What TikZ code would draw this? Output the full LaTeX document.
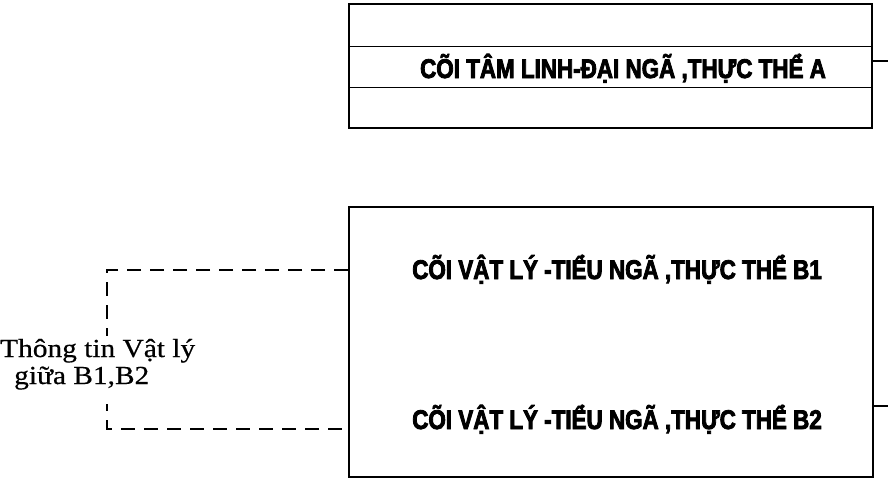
\documentclass[tikz,border=0pt]{standalone}
\usepackage{fontspec}
\setmainfont{Liberation Serif}
\newfontfamily\headfont[FakeStretch=0.83,FakeBold=3]{Liberation Sans Bold}
\newfontfamily\sidefont[FakeStretch=1.13,FakeBold=0.5]{Liberation Serif}
\tikzset{
  frame/.style={draw, line width=2pt, rectangle, inner sep=0pt},
  band/.style={draw, line width=1.8pt, rectangle, inner sep=0pt},
  headtxt/.style={font=\headfont\fontsize{27}{29}\selectfont, inner sep=0pt, anchor=base},
  sidetxt/.style={font=\sidefont\fontsize{26}{28}\selectfont, inner sep=0pt, anchor=base west},
  dashlink/.style={line width=1.6pt, dash pattern=on 14pt off 9pt},
  tick/.style={line width=1.6pt}
}
\begin{document}
\begin{tikzpicture}[x=1pt,y=-1pt]
\useasboundingbox (0,0) rectangle (888,480);
% top box
\node[frame, minimum width=523pt, minimum height=124pt] (A) at (610.5,66) {};
\node[band, minimum width=523pt, minimum height=41pt] (Aband) at (610.5,67) {};
\node[headtxt] (Atxt) at (623,78) {CÕI TÂM LINH-ĐẠI NGÃ ,THỰC THỂ A};
% lower box
\node[frame, minimum width=524pt, minimum height=270pt] (B) at (611,342) {};
\node[headtxt] (B1) at (617,279) {CÕI VẬT LÝ -TIỂU NGÃ ,THỰC THỂ B1};
\node[headtxt] (B2) at (617,429) {CÕI VẬT LÝ -TIỂU NGÃ ,THỰC THỂ B2};
% side ticks
\coordinate (tA) at (888,61);
\coordinate (tB) at (888,406);
\draw[tick] (A.east |- tA) -- (tA);
\draw[tick] (B.east |- tB) -- (tB);
% dashed link between B1 and B2
\coordinate (l1) at (107,270);
\coordinate (l2) at (107,429);
\draw[dashlink] (B.west |- l1) -- (l1) -- (l2) -- (B.west |- l2);
% side label
\node[sidetxt, fill=white, inner ysep=14pt] (lbl2) at (14,384) {giữa B1,B2};
\node[sidetxt, fill=white, inner ysep=3pt] (lbl1) at (0,357) {Thông tin Vật lý};
\end{tikzpicture}
\end{document}
